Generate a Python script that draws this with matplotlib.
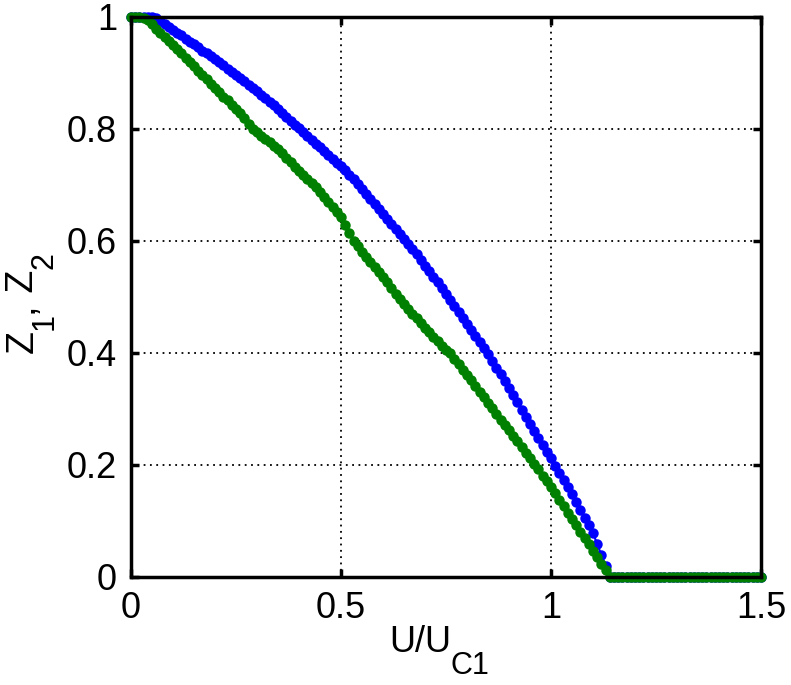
import numpy as np
import matplotlib
matplotlib.use("Agg")
import matplotlib.pyplot as plt
from matplotlib.transforms import IdentityTransform

plt.rcParams['font.family'] = ['Liberation Sans', 'DejaVu Sans']

# U/UC1 sampled every 0.01 from 0 to 1.5
u = np.round(np.arange(0, 151) * 0.01, 2)

# Z1 (blue)
z1 = np.array([
    1.000, 1.000, 1.000, 1.000, 1.000, 1.000, 0.998, 0.992, 0.987, 0.982,
    0.977, 0.972, 0.967, 0.961, 0.956, 0.951, 0.946, 0.940, 0.935, 0.930,
    0.925, 0.919, 0.914, 0.908, 0.902, 0.896, 0.891, 0.885, 0.879, 0.874,
    0.868, 0.861, 0.855, 0.848, 0.842, 0.836, 0.829, 0.822, 0.815, 0.808,
    0.802, 0.795, 0.788, 0.781, 0.774, 0.767, 0.761, 0.754, 0.747, 0.740,
    0.734, 0.726, 0.718, 0.710, 0.701, 0.693, 0.684, 0.675, 0.666, 0.657,
    0.648, 0.639, 0.631, 0.622, 0.613, 0.604, 0.595, 0.585, 0.576, 0.566,
    0.556, 0.546, 0.536, 0.526, 0.516, 0.506, 0.495, 0.484, 0.474, 0.463,
    0.452, 0.441, 0.430, 0.420, 0.409, 0.398, 0.386, 0.374, 0.362, 0.350,
    0.338, 0.325, 0.312, 0.299, 0.286, 0.273, 0.261, 0.249, 0.236, 0.224,
    0.212, 0.199, 0.186, 0.174, 0.161, 0.148, 0.134, 0.120, 0.106, 0.092,
    0.078, 0.059, 0.039, 0.020, 0.000, 0.000, 0.000, 0.000, 0.000, 0.000,
    0.000, 0.000, 0.000, 0.000, 0.000, 0.000, 0.000, 0.000, 0.000, 0.000,
    0.000, 0.000, 0.000, 0.000, 0.000, 0.000, 0.000, 0.000, 0.000, 0.000,
    0.000, 0.000, 0.000, 0.000, 0.000, 0.000, 0.000, 0.000, 0.000, 0.000,
    0.000,
])

# Z2 (green)
z2 = np.array([
    1.000, 1.000, 1.000, 0.999, 0.994, 0.987, 0.979, 0.972, 0.965, 0.957,
    0.950, 0.942, 0.935, 0.927, 0.920, 0.912, 0.904, 0.897, 0.889, 0.881,
    0.873, 0.866, 0.858, 0.851, 0.843, 0.836, 0.828, 0.819, 0.809, 0.800,
    0.794, 0.788, 0.782, 0.776, 0.770, 0.764, 0.757, 0.749, 0.741, 0.733,
    0.725, 0.718, 0.711, 0.703, 0.696, 0.688, 0.679, 0.670, 0.661, 0.652,
    0.643, 0.629, 0.614, 0.600, 0.591, 0.581, 0.572, 0.563, 0.554, 0.545,
    0.535, 0.526, 0.516, 0.506, 0.497, 0.487, 0.479, 0.470, 0.462, 0.453,
    0.445, 0.437, 0.429, 0.421, 0.413, 0.405, 0.400, 0.390, 0.380, 0.370,
    0.361, 0.351, 0.341, 0.331, 0.321, 0.311, 0.301, 0.291, 0.281, 0.271,
    0.262, 0.252, 0.242, 0.232, 0.222, 0.212, 0.202, 0.192, 0.181, 0.171,
    0.161, 0.150, 0.138, 0.127, 0.115, 0.104, 0.092, 0.081, 0.069, 0.058,
    0.046, 0.035, 0.023, 0.012, 0.000, 0.000, 0.000, 0.000, 0.000, 0.000,
    0.000, 0.000, 0.000, 0.000, 0.000, 0.000, 0.000, 0.000, 0.000, 0.000,
    0.000, 0.000, 0.000, 0.000, 0.000, 0.000, 0.000, 0.000, 0.000, 0.000,
    0.000, 0.000, 0.000, 0.000, 0.000, 0.000, 0.000, 0.000, 0.000, 0.000,
    0.000,
])

xticks = [0, 0.5, 1, 1.5]
xticklabels = ['0', '0.5', '1', '1.5']
yticks = [0, 0.2, 0.4, 0.6, 0.8, 1]
yticklabels = ['0', '0.2', '0.4', '0.6', '0.8', '1']

# axis labels as (text, size, baseline shift in px) runs, MATLAB-style big subscripts
xlabel_parts = [('U/U', 26, 0), ('C1', 22, -22)]
ylabel_parts = [('Z', 27, 0), ('1', 22, -20), (',', 27, 0), (' Z', 27, 0), ('2', 22, -20)]

fig = plt.figure(figsize=(7.91, 6.85), dpi=100)
ax = fig.add_axes([0.1656, 0.1577, 0.7965, 0.8175])

ax.plot(u, z1, '-o', color='#0000ff', lw=1.5, ms=6, mew=1.5, clip_on=False)
ax.plot(u, z2, '-o', color='#008000', lw=1.5, ms=6, mew=1.5, clip_on=False)

ax.set_xlim(0, 1.5)
ax.set_ylim(0, 1)
ax.set_xticks(xticks)
ax.set_xticklabels(xticklabels)
ax.set_yticks(yticks)
ax.set_yticklabels(yticklabels)
ax.grid(True, color='black', linestyle=(0, (1, 2.5)), linewidth=1.3)
ax.tick_params(direction='in', length=6, width=2.5, labelsize=26,
               top=True, right=True, pad=10)
for s in ax.spines.values():
    s.set_linewidth(2.5)

renderer = fig.canvas.get_renderer()

# x label, pixel coords from bottom-left
x, y = 389, 33
for txt, size, shift in xlabel_parts:
    t = fig.text(x, y + shift, txt, fontsize=size, ha='left', va='baseline',
                 transform=IdentityTransform())
    x = t.get_window_extent(renderer).x1

# y label, rotated, reading upwards
x, y = 33, 332
for txt, size, shift in ylabel_parts:
    t = fig.text(x - shift, y, txt, fontsize=size, rotation=90,
                 rotation_mode='anchor', ha='left', va='baseline',
                 transform=IdentityTransform())
    y = t.get_window_extent(renderer).y1

fig.savefig('out.png', dpi=100)
